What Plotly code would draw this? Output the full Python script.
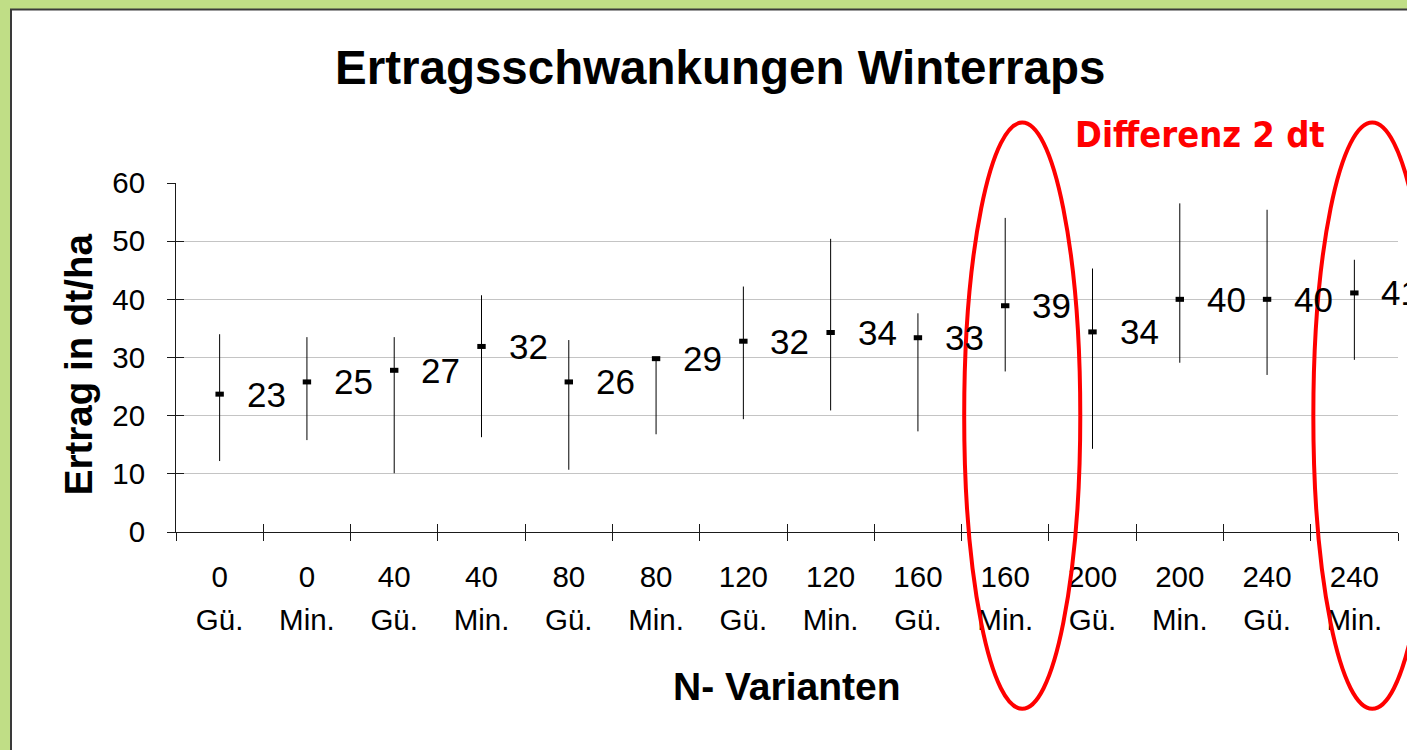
import plotly.graph_objects as go

# ---- data ----
n_rates = ["0", "0", "40", "40", "80", "80", "120", "120", "160", "160", "200", "200", "240", "240"]
variants = ["Gü.", "Min.", "Gü.", "Min.", "Gü.", "Min.", "Gü.", "Min.", "Gü.", "Min.", "Gü.", "Min.", "Gü.", "Min."]
means = [23.7, 25.8, 27.8, 31.9, 25.8, 29.8, 32.8, 34.3, 33.4, 38.9, 34.4, 40.0, 40.0, 41.1]
maxima = [34.0, 33.5, 33.5, 40.7, 33.0, 29.9, 42.2, 50.4, 37.6, 54.0, 45.3, 56.5, 55.4, 46.8]
minima = [12.2, 15.8, 10.1, 16.3, 10.7, 16.8, 19.4, 20.9, 17.3, 27.6, 14.3, 29.1, 27.0, 29.6]
value_labels = ["23", "25", "27", "32", "26", "29", "32", "34", "33", "39", "34", "40", "40", "41"]
y_ticks = [0, 10, 20, 30, 40, 50, 60]

# highlighted categories (ellipses), in axis units: (x0, x1, y0, y1)
highlight_boxes = [(8.53, 9.86, -30.4, 70.4), (12.53, 13.88, -30.4, 70.4)]

N = len(means)
idx = list(range(N))
centers = idx
bounds = [i - 0.5 for i in range(N + 1)]
XR = [-0.5, N - 0.5]
YR = [0, 60]

FONT = "Liberation Sans, Arial, sans-serif"
AX = "#1a1a1a"

def px(xv):
    return (xv - XR[0]) / (XR[1] - XR[0])

def py(yv):
    return (yv - YR[0]) / (YR[1] - YR[0])

fig = go.Figure()
fig.add_trace(go.Scatter(
    x=idx, y=means, mode="markers",
    marker=dict(symbol="line-ew", size=6, color="black", line=dict(color="black", width=5)),
    error_y=dict(type="data", symmetric=False,
                 array=[mx - m for mx, m in zip(maxima, means)],
                 arrayminus=[m - mn for m, mn in zip(means, minima)],
                 color="black", thickness=1, width=0),
    showlegend=False, hoverinfo="skip", cliponaxis=False,
))
# helper empty traces so overlay axes are drawn
for xa, ya in [("x2", "y"), ("x3", "y"), ("x4", "y"), ("x", "y2")]:
    fig.add_trace(go.Scatter(x=[None], y=[None], xaxis=xa, yaxis=ya, mode="markers",
                             showlegend=False, hoverinfo="skip"))

annotations = []
for i in idx:
    annotations.append(dict(x=i, y=means[i], xref="x", yref="y", text=value_labels[i],
                            showarrow=False, xanchor="left", yanchor="middle", xshift=25,
                            font=dict(family=FONT, size=35, color="black")))
annotations += [
    dict(x=0.4452, y=1.332, xref="paper", yref="paper", text="Ertragsschwankungen Winterraps",
         showarrow=False, xanchor="center", yanchor="middle",
         font=dict(family=FONT, size=47.5, color="black", weight="bold")),
    dict(x=-0.0802, y=0.481, xref="paper", yref="paper", text="Ertrag in dt/ha", textangle=-90,
         showarrow=False, xanchor="center", yanchor="middle",
         font=dict(family=FONT, size=38.5, color="black", weight="bold")),
    dict(x=0.5, y=-0.444, xref="paper", yref="paper", text="N- Varianten",
         showarrow=False, xanchor="center", yanchor="middle",
         font=dict(family=FONT, size=39, color="black", weight="bold")),
    dict(x=0.838, y=1.140, xref="paper", yref="paper", text="Differenz 2 dt",
         showarrow=False, xanchor="center", yanchor="middle",
         font=dict(family="DejaVu Sans Condensed, DejaVu Sans, sans-serif", size=36,
                   color="#ff0000", weight="bold")),
]

shapes = [
    dict(type="rect", xref="paper", yref="paper", layer="below",
         x0=(11 - 176) / 1222, x1=1.2, y0=-1.0, y1=(532 - 9.5) / 349,
         fillcolor="white", line=dict(color="#3a3a3a", width=2)),
]
for (a, b, c, d) in highlight_boxes:
    shapes.append(dict(type="circle", xref="paper", yref="paper", layer="above",
                       x0=px(a), x1=px(b), y0=py(c), y1=py(d),
                       line=dict(color="#ff0000", width=4)))

tickfont = dict(family=FONT, size=29.5, color="black")
fig.update_layout(
    width=1407, height=750,
    margin=dict(l=176, r=9, t=183, b=218, pad=0),
    paper_bgcolor="#c0de86", plot_bgcolor="rgba(0,0,0,0)",
    showlegend=False,
    annotations=annotations, shapes=shapes,
    xaxis=dict(range=XR, tickmode="array", tickvals=bounds, ticks="outside", ticklen=8,
               tickcolor=AX, showticklabels=False, showgrid=False, zeroline=False,
               showline=True, linecolor=AX, linewidth=1, automargin=False, fixedrange=True),
    xaxis2=dict(range=XR, overlaying="x", anchor="y", side="bottom", tickmode="array",
                tickvals=centers, ticktext=n_rates, ticks="", showline=False, showgrid=False,
                zeroline=False, tickfont=tickfont, ticklabelstandoff=24, automargin=False),
    xaxis3=dict(range=XR, overlaying="x", anchor="y", side="bottom", tickmode="array",
                tickvals=centers, ticktext=variants, ticks="", showline=False, showgrid=False,
                zeroline=False, tickfont=tickfont, ticklabelstandoff=67, automargin=False),
    xaxis4=dict(range=XR, overlaying="x", anchor="y", side="bottom", tickmode="array",
                tickvals=bounds, ticks="inside", ticklen=8, tickcolor=AX, showticklabels=False,
                showline=False, showgrid=False, zeroline=False, automargin=False),
    yaxis=dict(range=YR, tickmode="array", tickvals=y_ticks, ticks="outside", ticklen=8,
               tickcolor=AX, tickfont=tickfont, ticklabelstandoff=16,
               showgrid=True, gridcolor="#c4c4c4", gridwidth=1, zeroline=False,
               showline=True, linecolor=AX, linewidth=1, automargin=False),
    yaxis2=dict(range=YR, overlaying="y", anchor="x", side="left", tickmode="array",
                tickvals=y_ticks, ticks="inside", ticklen=8, tickcolor=AX,
                showticklabels=False, showgrid=False, zeroline=False, showline=False,
                automargin=False),
)

fig.write_html("out.html", config={"displayModeBar": False},
               post_script="document.body.style.margin='0';document.body.style.padding='0';"
                           "document.documentElement.style.overflow='hidden';")
